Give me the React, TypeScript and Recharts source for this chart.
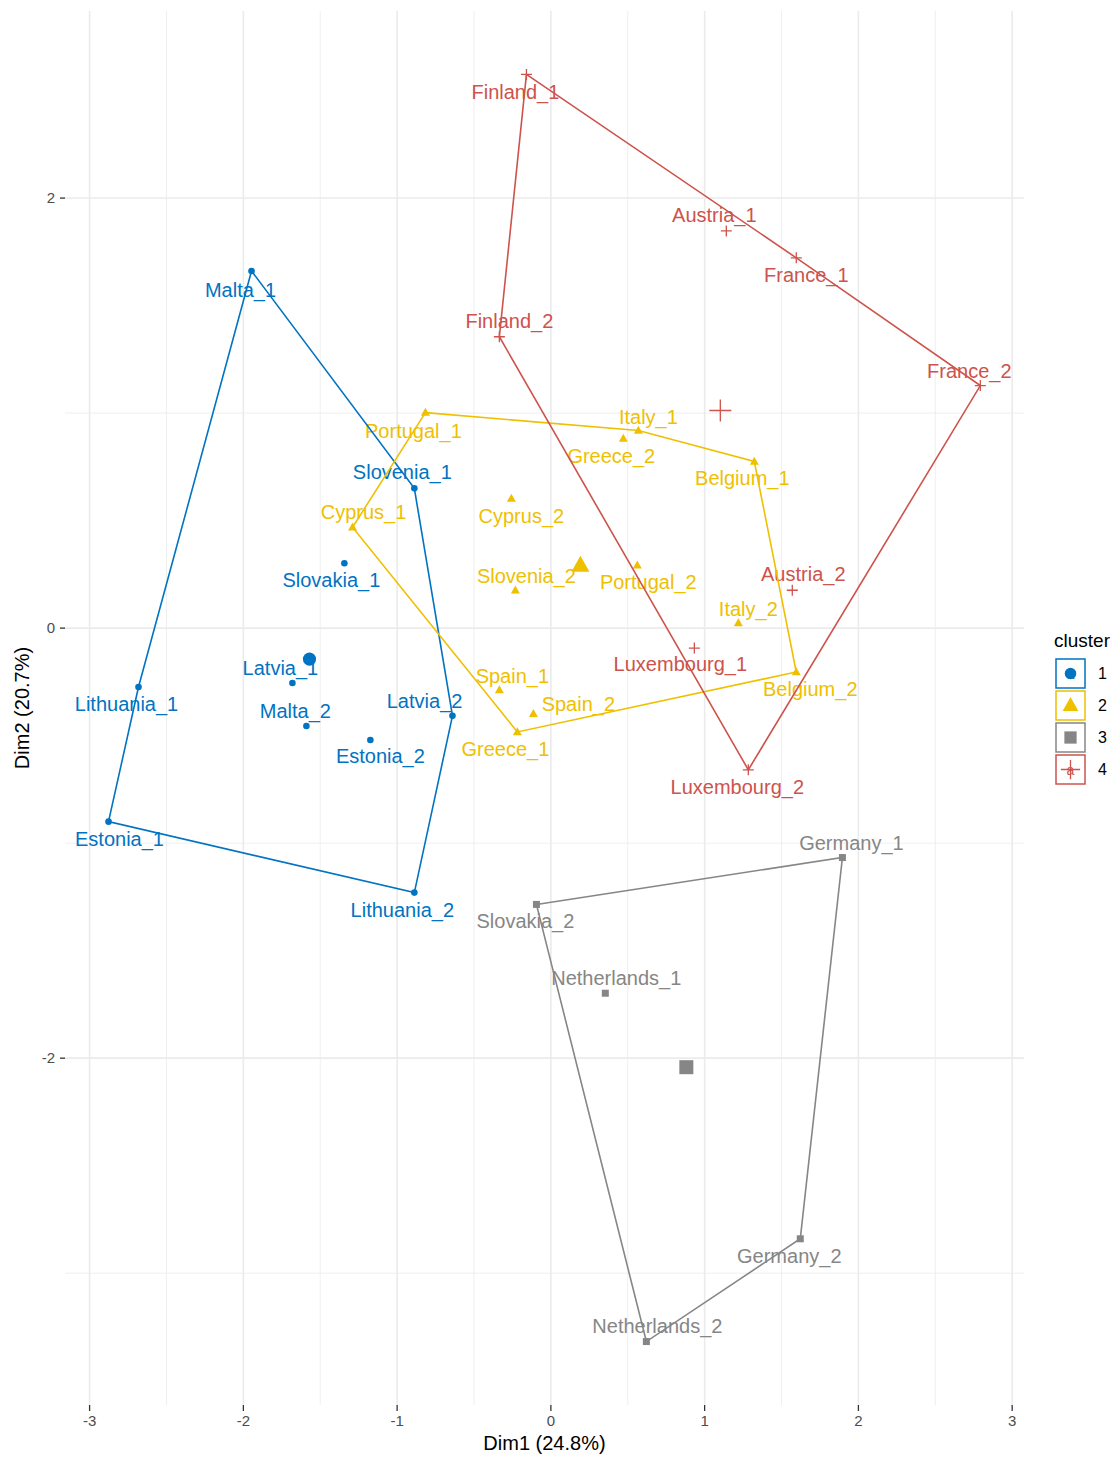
import React from "react";
import { ScatterChart, Scatter, XAxis, YAxis, ReferenceLine, Label } from "recharts";

type Pt = { name: string; x: number; y: number };

// individuals per cluster (Dim1, Dim2)
const cluster1: Pt[] = [
  { name: "Malta_1", x: -1.947, y: 1.661 },
  { name: "Slovenia_1", x: -0.888, y: 0.65 },
  { name: "Slovakia_1", x: -1.343, y: 0.302 },
  { name: "Latvia_1", x: -1.681, y: -0.255 },
  { name: "Malta_2", x: -1.59, y: -0.455 },
  { name: "Estonia_2", x: -1.174, y: -0.52 },
  { name: "Latvia_2", x: -0.64, y: -0.408 },
  { name: "Lithuania_1", x: -2.682, y: -0.274 },
  { name: "Estonia_1", x: -2.877, y: -0.9 },
  { name: "Lithuania_2", x: -0.888, y: -1.23 },
];

const cluster2: Pt[] = [
  { name: "Portugal_1", x: -0.816, y: 1.002 },
  { name: "Italy_1", x: 0.569, y: 0.919 },
  { name: "Greece_2", x: 0.471, y: 0.882 },
  { name: "Belgium_1", x: 1.323, y: 0.775 },
  { name: "Cyprus_2", x: -0.257, y: 0.603 },
  { name: "Cyprus_1", x: -1.29, y: 0.469 },
  { name: "Slovenia_2", x: -0.231, y: 0.176 },
  { name: "Portugal_2", x: 0.562, y: 0.292 },
  { name: "Italy_2", x: 1.219, y: 0.023 },
  { name: "Belgium_2", x: 1.596, y: -0.204 },
  { name: "Spain_1", x: -0.335, y: -0.288 },
  { name: "Spain_2", x: -0.114, y: -0.399 },
  { name: "Greece_1", x: -0.218, y: -0.483 },
];

const cluster3: Pt[] = [
  { name: "Germany_1", x: 1.896, y: -1.067 },
  { name: "Slovakia_2", x: -0.094, y: -1.285 },
  { name: "Netherlands_1", x: 0.354, y: -1.698 },
  { name: "Germany_2", x: 1.622, y: -2.84 },
  { name: "Netherlands_2", x: 0.621, y: -3.318 },
];

const cluster4: Pt[] = [
  { name: "Finland_1", x: -0.159, y: 2.575 },
  { name: "Austria_1", x: 1.141, y: 1.847 },
  { name: "France_1", x: 1.596, y: 1.722 },
  { name: "Finland_2", x: -0.335, y: 1.355 },
  { name: "France_2", x: 2.793, y: 1.128 },
  { name: "Austria_2", x: 1.57, y: 0.176 },
  { name: "Luxembourg_1", x: 0.933, y: -0.093 },
  { name: "Luxembourg_2", x: 1.284, y: -0.659 },
];

// cluster centres (large symbols)
const centers: Pt[] = [
  { name: "1", x: -1.57, y: -0.144 },
  { name: "2", x: 0.192, y: 0.292 },
  { name: "3", x: 0.881, y: -2.042 },
  { name: "4", x: 1.102, y: 1.012 },
];

// convex hull vertex order
const hull1 = ["Malta_1", "Slovenia_1", "Latvia_2", "Lithuania_2", "Estonia_1", "Lithuania_1"];
const hull2 = ["Portugal_1", "Italy_1", "Belgium_1", "Belgium_2", "Greece_1", "Cyprus_1"];
const hull3 = ["Slovakia_2", "Germany_1", "Germany_2", "Netherlands_2"];
const hull4 = ["Finland_1", "France_1", "France_2", "Luxembourg_2", "Finland_2"];

const xTicks = [-3, -2, -1, 0, 1, 2, 3];
const yTicks = [-2, 0, 2];
const xMinor = [-2.5, -1.5, -0.5, 0.5, 1.5, 2.5];
const yMinor = [-3, -1, 1];

const clusterNames = ["1", "2", "3", "4"];

// repelled label nudges in px (dx, dy)
const labelOffset: Record<string, [number, number]> = {
  Malta_1: [-11, 19], Slovenia_1: [-12, -16], Slovakia_1: [-13, 17], Latvia_1: [-12, -15],
  Malta_2: [-11, -15], Estonia_2: [10, 16], Latvia_2: [-28, -15], Lithuania_1: [-12, 17],
  Estonia_1: [11, 17], Lithuania_2: [-12, 17],
  Portugal_1: [-12, 18], Italy_1: [10, -14], Greece_2: [-12, 18], Belgium_1: [-12, 17],
  Cyprus_2: [10, 18], Cyprus_1: [11, -15], Slovenia_2: [11, -14], Portugal_2: [11, 17],
  Italy_2: [10, -14], Belgium_2: [14, 17], Spain_1: [13, -14], Spain_2: [45, -10], Greece_1: [-12, 17],
  Germany_1: [9, -15], Slovakia_2: [-11, 17], Netherlands_1: [11, -15], Germany_2: [-11, 17],
  Netherlands_2: [11, -16],
  Finland_1: [-11, 18], Austria_1: [-12, -16], France_1: [10, 17], Finland_2: [10, -16],
  France_2: [-11, -15], Austria_2: [11, -16], Luxembourg_1: [-14, 16], Luxembourg_2: [-11, 17],
};

const COLORS = ["#0073C2", "#EFC000", "#868686", "#CD534C"];
const KINDS = ["circle", "triangle", "square", "plus"];
const FONT = "'Liberation Sans', Arial, Helvetica, sans-serif";

function marker(kind: string, cx: number, cy: number, color: string, s: number) {
  switch (kind) {
    case "circle":
      return <circle cx={cx} cy={cy} r={3.3 * s} fill={color} />;
    case "triangle": {
      const w = 9 * s;
      const h = 8 * s;
      return (
        <polygon
          points={`${cx},${cy - h * 0.6} ${cx - w / 2},${cy + h * 0.4} ${cx + w / 2},${cy + h * 0.4}`}
          fill={color}
        />
      );
    }
    case "square":
      return <rect x={cx - 3.5 * s} y={cy - 3.5 * s} width={7 * s} height={7 * s} fill={color} />;
    default:
      return (
        <path
          d={`M${cx - 5.5 * s},${cy}H${cx + 5.5 * s}M${cx},${cy - 5.5 * s}V${cy + 5.5 * s}`}
          stroke={color}
          strokeWidth={1.3}
        />
      );
  }
}

const pointShape = (i: number) => (props: any) => {
  const { cx, cy, payload } = props;
  const [dx, dy] = labelOffset[payload.name] ?? [0, -16];
  return (
    <g>
      {marker(KINDS[i], cx, cy, COLORS[i], 1)}
      <text
        x={cx + dx}
        y={cy + dy}
        dy="0.35em"
        textAnchor="middle"
        fill={COLORS[i]}
        fontSize={20}
        fontFamily={FONT}
      >
        {payload.name}
      </text>
    </g>
  );
};

const centerShape = (props: any) => {
  const { cx, cy, payload } = props;
  const i = clusterNames.indexOf(payload.name);
  return marker(KINDS[i], cx, cy, COLORS[i], 2);
};

const closeHull = (pts: Pt[], order: string[]) => {
  const ring = order.map((n) => pts.find((p) => p.name === n) as Pt);
  return [...ring, ring[0]];
};

const clusters = [cluster1, cluster2, cluster3, cluster4];
const hulls = [hull1, hull2, hull3, hull4];

function LegendBox() {
  return (
    <svg
      width={70}
      height={170}
      style={{ position: "absolute", left: 1040, top: 620, overflow: "visible" }}
    >
      <text x={6} y={19} fontSize={19} fontFamily={FONT} fill="#000">
        cluster
      </text>
      {clusterNames.map((c, i) => {
        const top = 31 + i * 32;
        const cx = 8 + 14.5;
        const cy = top + 14.5;
        return (
          <g key={c}>
            <rect x={8} y={top} width={29} height={29} fill="#fff" stroke={COLORS[i]} strokeWidth={1.5} />
            <text x={cx} y={cy + 5} textAnchor="middle" fontSize={14} fontFamily={FONT} fill={COLORS[i]}>
              a
            </text>
            {marker(KINDS[i], cx, cy, COLORS[i], 1.75)}
            <text x={50} y={cy} dy="0.35em" fontSize={16} fontFamily={FONT} fill="#000">
              {c}
            </text>
          </g>
        );
      })}
    </svg>
  );
}

export default function App() {
  return (
    <div style={{ position: "relative", width: 1110, height: 1449 }}>
      <ScatterChart width={1110} height={1449} margin={{ top: 3, right: 94, bottom: 0, left: 0 }}>
        <XAxis
          type="number"
          dataKey="x"
          domain={[-3.16, 3.077]}
          ticks={xTicks}
          allowDataOverflow
          axisLine={false}
          tickSize={6}
          tickMargin={4}
          tickLine={{ stroke: "#333", strokeWidth: 1.3 }}
          tick={{ fill: "#4d4d4d", fontSize: 15, fontFamily: FONT }}
          height={52}
        >
          <Label
            content={(p: any) => {
              const vb = p.viewBox;
              return (
                <text x={vb.x + vb.width / 2} y={vb.y + 45} textAnchor="middle" fontSize={20} fontFamily={FONT} fill="#000">
                  Dim1 (24.8%)
                </text>
              );
            }}
          />
        </XAxis>
        <YAxis
          type="number"
          dataKey="y"
          domain={[-3.613, 2.87]}
          ticks={yTicks}
          allowDataOverflow
          axisLine={false}
          tickSize={5}
          tickMargin={5}
          tickLine={{ stroke: "#333", strokeWidth: 1.3 }}
          tick={{ fill: "#4d4d4d", fontSize: 15, fontFamily: FONT }}
          width={57}
        >
          <Label
            content={(p: any) => {
              const vb = p.viewBox;
              const cy = vb.y + vb.height / 2;
              return (
                <text
                  x={14}
                  y={cy}
                  transform={`rotate(-90 14 ${cy})`}
                  textAnchor="middle"
                  dominantBaseline="central"
                  fontSize={20}
                  fontFamily={FONT}
                  fill="#000"
                >
                  Dim2 (20.7%)
                </text>
              );
            }}
          />
        </YAxis>

        {xMinor.map((v) => (
          <ReferenceLine key={"xm" + v} x={v} stroke="#ebebeb" strokeWidth={0.8} />
        ))}
        {yMinor.map((v) => (
          <ReferenceLine key={"ym" + v} y={v} stroke="#ebebeb" strokeWidth={0.8} />
        ))}
        {xTicks.map((v) => (
          <ReferenceLine key={"xM" + v} x={v} stroke="#ebebeb" strokeWidth={1.6} />
        ))}
        {yTicks.map((v) => (
          <ReferenceLine key={"yM" + v} y={v} stroke="#ebebeb" strokeWidth={1.6} />
        ))}

        {clusters.map((pts, i) => (
          <Scatter key={"pts" + i} data={pts} shape={pointShape(i)} isAnimationActive={false} />
        ))}

        <Scatter data={centers} shape={centerShape} isAnimationActive={false} />

        {clusters.map((pts, i) => (
          <Scatter
            key={"hull" + i}
            data={closeHull(pts, hulls[i])}
            line={{ stroke: COLORS[i], strokeWidth: 1.6 }}
            shape={() => <g />}
            isAnimationActive={false}
          />
        ))}
      </ScatterChart>
      <LegendBox />
    </div>
  );
}
